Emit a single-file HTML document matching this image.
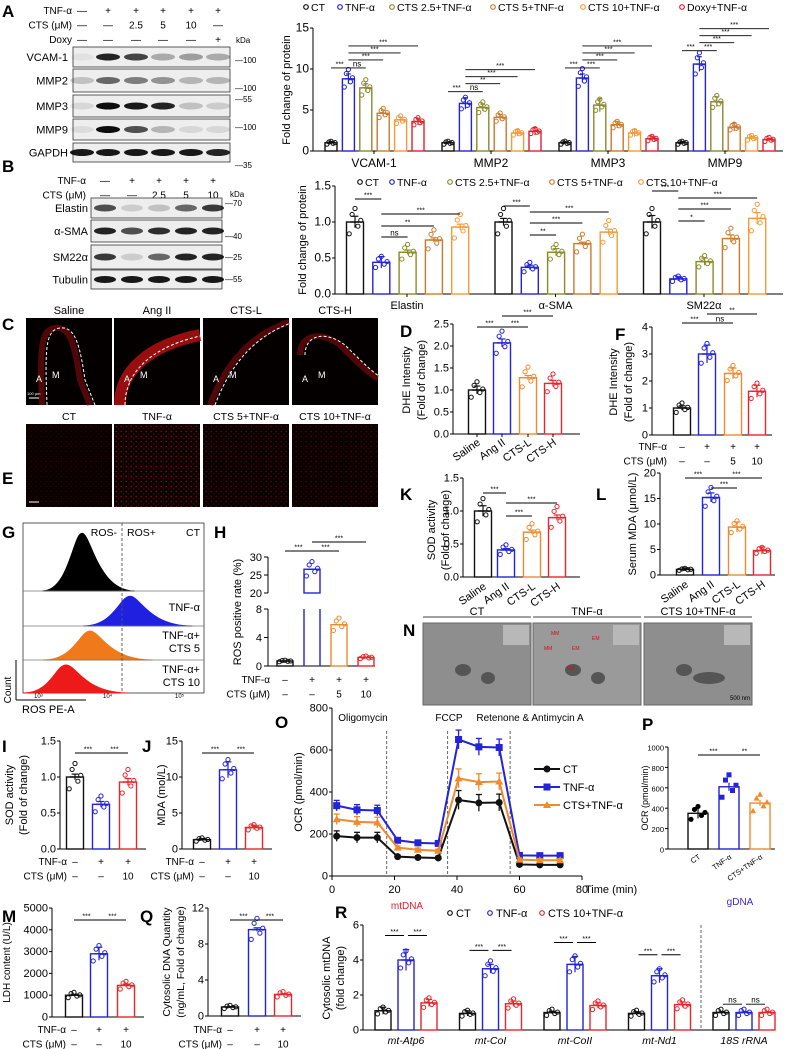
<!DOCTYPE html>
<html><head><meta charset="utf-8"><style>
html,body{margin:0;padding:0;background:#fff}
svg{display:block;font-family:"Liberation Sans",Arial,sans-serif}
</style></head><body>
<svg id="fig" width="787" height="1049" viewBox="0 0 787 1049" xmlns="http://www.w3.org/2000/svg">
<defs>
<pattern id="dots" width="5" height="5" patternUnits="userSpaceOnUse"><circle cx="1.2" cy="1.5" r="0.7" fill="#ff2020"/><circle cx="3.8" cy="3.9" r="0.6" fill="#c01010"/></pattern>
</defs>
</svg>
<script>
// ---------- data ----------
const C_CT='#111', C_TNF='#2323d8', C_25='#8a8a2c', C_5='#cc7a2e', C_10='#f59a38', C_DOXY='#e0202c', C_L='#f08a2e', C_H='#e8262c';
const aGroups=['VCAM-1','MMP2','MMP3','MMP9'];
const aVals=[[1,8.8,7.7,4.6,3.8,3.6],[1,5.8,5.3,4.1,2.2,2.4],[1,8.9,5.6,3.2,2.2,1.5],[1,10.6,6.0,2.9,1.6,1.4]];
const aSem=[[0.15,0.6,0.5,0.35,0.3,0.4],[0.1,0.7,0.4,0.35,0.4,0.45],[0.15,0.5,0.8,0.4,0.45,0.3],[0.15,0.9,0.6,0.5,0.2,0.1]];
const bGroups=['Elastin','α-SMA','SM22α'];
const bVals=[[1,0.44,0.58,0.75,0.93],[1,0.37,0.58,0.70,0.86],[1,0.21,0.45,0.77,1.05]];
const bSem=[[0.08,0.08,0.03,0.03,0.04],[0.05,0.03,0.05,0.02,0.04],[0.09,0.03,0.05,0.05,0.08]];
const bSigLabels=[['***','ns','**','***'],['***','**','***','***'],['***','*','***','***']];
const dVals=[1.0,2.07,1.28,1.15], dSem=[0.09,0.09,0.05,0.07];
const fVals=[1.0,3.0,2.28,1.62], fSem=[0.08,0.33,0.2,0.22];
const kVals=[1.0,0.41,0.68,0.90], kSem=[0.08,0.02,0.03,0.04];
const lVals=[1.1,15.2,9.4,4.8], lSem=[0.3,0.9,1.0,0.7];
const hVals=[0.7,26.6,5.8,1.2], hSem=[0.1,0.6,0.3,0.3];
const iVals=[1.0,0.62,0.93], iSem=[0.04,0.04,0.05];
const jVals=[1.3,11.0,3.0], jSem=[0.15,1.1,0.3];
const mVals=[1000,2900,1450], mSem=[40,300,60];
const qVals=[1.0,9.6,2.4], qSem=[0.05,0.2,0.05];
const pVals=[350,610,450], pSem=[50,40,30];
const rGroups=['mt-Atp6','mt-CoI','mt-CoII','mt-Nd1','18S rRNA'];
const rVals=[[1.1,4.0,1.55],[0.95,3.5,1.5],[1.0,3.75,1.4],[0.95,3.1,1.45],[1,1,1]];
const rSem=[[0.2,0.6,0.2],[0.15,0.25,0.15],[0.07,0.45,0.15],[0.1,0.4,0.15],[0.02,0.02,0.02]];
const oTimes=[1.5,8,14.5,21,27.5,34,40.5,47,53.5,60,66.5,73];
const oCT=[190,183,183,92,88,86,362,348,350,55,53,53];
const oTNF=[335,315,312,170,158,155,650,615,612,98,97,97];
const oCTS=[270,258,255,135,125,120,465,447,450,78,75,75];
const oErr=[25,25,25,8,8,8,45,40,40,8,8,8];
const replDev=[-0.14,0.09,0.16,-0.05,0.02];
const blotA=[['VCAM-1',[0.05,0.9,0.75,0.3,0.35,0.3]],['MMP2',[0.2,0.6,0.5,0.4,0.25,0.25]],['MMP3',[0.1,1,0.95,0.9,0.2,0.15]],['MMP9',[0.08,1,0.7,0.25,0.1,0.1]],['GAPDH',[0.95,0.95,0.95,0.95,0.95,0.9]]];
const blotB=[['Elastin',[0.7,0.15,0.2,0.6,0.8]],['α-SMA',[0.9,0.7,0.85,0.9,0.9]],['SM22α',[0.8,0.15,0.6,0.9,0.9]],['Tubulin',[0.95,0.95,0.95,0.95,0.95]]];

// ---------- helpers ----------
const NS='http://www.w3.org/2000/svg';
const svg=document.getElementById('fig');
function mk(tag,attrs,name){
  const e=document.createElementNS(NS,tag);
  for(const k in attrs) e.setAttribute(k,attrs[k]);
  
  
  svg.appendChild(e); return e;
}
function txt(x,y,s,size,anchor,color,name,rot,extra){
  const a={x:x,y:y,'font-size':size,'text-anchor':anchor||'start',fill:color||'#000'};
  if(rot) a.transform='rotate('+rot+' '+x+' '+y+')';
  if(extra) for(const k in extra) a[k]=extra[k];
  const t=mk('text',a,name||'label'); t.textContent=s; return t;
}
function line(x1,y1,x2,y2,col,w,name,dash){
  const a={x1:x1,y1:y1,x2:x2,y2:y2,stroke:col||'#000','stroke-width':w||1};
  if(dash) a['stroke-dasharray']=dash;
  return mk('line',a,name||'line');
}
function letter(x,y,s){ txt(x,y,s,17,'start','#000','panel-letter-'+s,0,{'font-weight':'bold'}); }
function yScale(yBot,yTop,vmin,vmax){ return v=>yBot-(v-vmin)/(vmax-vmin)*(yBot-yTop); }
function yAxis(x,yBot,yTop,ticks,labels,y,size,name){
  line(x,yBot,x,yTop,'#000',1,name+'-axis');
  ticks.forEach((t,i)=>{ line(x-3,y(t),x,y(t),'#000',1,name+'-tick'); txt(x-4,y(t)+3.5,labels[i],size||10,'end','#000',name+'-tick-label'); });
}
function bars(xs,vals,sems,cols,y,w,name,pts){
  xs.forEach((x,i)=>{
    const v=vals[i], c=cols[i];
    mk('rect',{x:x-w/2,y:y(v),width:w,height:Math.max(0,y(0)-y(v)),fill:'#fff',stroke:c,'stroke-width':1.4},name+'-bar');
    line(x,y(v+sems[i]),x,y(v-sems[i]),c,1.2,name+'-error-bar');
    line(x-w*0.2,y(v+sems[i]),x+w*0.2,y(v+sems[i]),c,1.2,name+'-error-cap');
    line(x-w*0.3,y(v),x+w*0.3,y(v),c,1.4,name+'-mean');
    if(pts!==false) replDev.forEach((d,k)=>{
      const pv=v*(1+d*(v>2?0.9:1.3)*0.9);
      mk('circle',{cx:x+(k-2)*w*0.17,cy:y(pv),r:2.1,fill:'none',stroke:c,'stroke-width':1},name+'-point');
    });
  });
}
function sig(x1,x2,yy,s,name){ line(x1,yy,x2,yy,'#000',0.9,name+'-sig-line'); txt((x1+x2)/2,yy-1.5,s,s==='ns'?8:7,'middle','#000',name+'-sig-label'); }
function signRows(xs,rows,yBase,labelX,names){
  rows.forEach((r,ri)=>{
    txt(labelX,yBase+ri*14.5,names[ri],10,'end','#000','condition-label');
    r.forEach((s,i)=>txt(xs[i],yBase+ri*14.5,s,10,'middle','#000','condition-sign'));
  });
}

// ---------- Panel A blots ----------
letter(2,17,'A');
const laneA=[82,108,136,163,191,218];
signRows(laneA,[['—','+','+','+','+','+'],['—','—','2.5','5','10','—'],['—','—','—','—','—','+']],14,72,['TNF-α','CTS (μM)','Doxy']);
txt(236,43,'kDa',8,'start','#000','kda-label');
const aRows=[[47,67],[69,92],[95,117],[119,140],[143,162]];
blotA.forEach((b,i)=>{
  const [t,bt]=aRows[i];
  mk('rect',{x:73,y:t,width:157,height:bt-t,fill:'#eeeeee',stroke:'#333','stroke-width':0.8},'blot-'+b[0]);
  txt(68,(t+bt)/2+4,b[0],11,'end','#000','blot-label');
  b[1].forEach((v,k)=>mk('ellipse',{cx:laneA[k],cy:(t+bt)/2,rx:12,ry:3.5,fill:'#000',opacity:v*0.95},'band'));
});
[['100',60],['100',88],['55',99],['100',127],['35',165]].forEach(m=>{txt(235,m[1]+3,'—'+m[0],8,'start','#000','kda-marker');});
// ---------- Panel B blots ----------
letter(2,172,'B');
const laneB=[105,132,159,186,213];
signRows(laneB,[['—','+','+','+','+'],['—','—','2.5','5','10']],184,86,['TNF-α','CTS (μM)']);
txt(230,197,'kDa',8,'start','#000','kda-label');
const bRows=[[198,218],[220,242],[245,269],[270,289]];
blotB.forEach((b,i)=>{
  const [t,bt]=bRows[i];
  mk('rect',{x:91,y:t,width:131,height:bt-t,fill:'#eeeeee',stroke:'#333','stroke-width':0.8},'blot-'+b[0]);
  txt(88,(t+bt)/2+4,b[0],11,'end','#000','blot-label');
  b[1].forEach((v,k)=>mk('ellipse',{cx:laneB[k],cy:(t+bt)/2,rx:11,ry:3.5,fill:'#000',opacity:v*0.95},'band'));
});
[['70',203],['40',236],['25',257],['55',279]].forEach(m=>txt(225,m[1]+3,'—'+m[0],8,'start','#000','kda-marker'));

// ---------- Panel A chart ----------
(function(){
  const y=yScale(151,28,0,15);
  yAxis(313,151,28,[0,5,10,15],['0','5','10','15'],y,12,'a-chart');
  line(313,151,783,151,'#000',1,'a-x-axis');
  const cols=[C_CT,C_TNF,C_25,C_5,C_10,C_DOXY];
  aGroups.forEach((g,gi)=>{
    const x0=331+gi*117;
    const xs=cols.map((c,i)=>x0+i*17.4);
    bars(xs,aVals[gi],aSem[gi],cols,y,12,'a-'+g);
    line(x0+43,151,x0+43,154,'#000',1,'a-x-tick');
    txt(x0+43,167,g,12,'middle','#000','a-x-label');
    const top=y(aVals[gi][1]+aSem[gi][1])-6;
    sig(xs[0],xs[1],top,'***','a');
    sig(xs[1],xs[2],top,gi<2?'ns':'***','a');
    [3,4,5].forEach((k,j)=>sig(xs[1],xs[k],top-8-j*7,gi===1&&j===0?'**':'***','a'));
  });
  txt(290,90,'Fold change of protein',11,'middle','#000','a-y-title',-90);
  const leg=[['CT',C_CT,306],['TNF-α',C_TNF,340],['CTS 2.5+TNF-α',C_25,392],['CTS 5+TNF-α',C_5,493],['CTS 10+TNF-α',C_10,583],['Doxy+TNF-α',C_DOXY,682]];
  leg.forEach(l=>{mk('circle',{cx:l[2],cy:7,r:2.3,fill:'none',stroke:l[1],'stroke-width':1.2},'legend-marker');txt(l[2]+5,11,l[0],10.5,'start','#000','legend-entry');});
})();
// ---------- Panel B chart ----------
(function(){
  const y=yScale(294,186,0,1.5);
  yAxis(335,294,186,[0,0.5,1,1.5],['0.0','0.5','1.0','1.5'],y,12,'b-chart');
  line(335,294,783,294,'#000',1,'b-x-axis');
  const cols=[C_CT,C_TNF,C_25,C_5,C_10];
  const sigY=[[199,237,226,214],[206,235,223,212],[191,221,209,198]];
  bGroups.forEach((g,gi)=>{
    const x0=355+gi*148.5;
    const xs=cols.map((c,i)=>x0+i*26.3);
    bars(xs,bVals[gi],bSem[gi],cols,y,17,'b-'+g);
    line(x0+52,294,x0+52,297,'#000',1,'b-x-tick');
    txt(x0+52,309,g,11,'middle','#000','b-x-label');
    sig(xs[0],xs[1],sigY[gi][0],bSigLabels[gi][0],'b');
    [2,3,4].forEach((k,j)=>sig(xs[1],xs[k],sigY[gi][j+1],bSigLabels[gi][j+1],'b'));
  });
  txt(306,240,'Fold change of protein',11,'middle','#000','b-y-title',-90);
  const leg=[['CT',C_CT,360],['TNF-α',C_TNF,392],['CTS 2.5+TNF-α',C_25,450],['CTS 5+TNF-α',C_5,552],['CTS 10+TNF-α',C_10,641]];
  leg.forEach(l=>{mk('circle',{cx:l[2],cy:182,r:2.3,fill:'none',stroke:l[1],'stroke-width':1.2},'legend-marker');txt(l[2]+5,186,l[0],10.5,'start','#000','legend-entry');});
})();

// ---------- Panel C images ----------
letter(2,330,'C');
const cNames=['Saline','Ang II','CTS-L','CTS-H'];
const cX=[26,114,203,292];
const cPaths=['M42 405 C40 350 40 330 55 328 C70 326 75 345 80 380 L90 405','M120 405 C120 370 150 345 200 335','M210 405 C225 365 250 335 289 322','M300 355 C300 335 320 330 340 345 C355 360 370 375 378 378'];
cX.forEach((x,i)=>{
  mk('rect',{x:x,y:318,width:86,height:87,fill:'#050000'},'c-image-'+cNames[i]);
  mk('path',{d:cPaths[i],fill:'none',stroke:'#b01010','stroke-width':i===1?12:6,opacity:i===1?0.85:0.45},'c-vessel-wall');
  mk('path',{d:cPaths[i],fill:'none',stroke:'#fff','stroke-width':1,'stroke-dasharray':'3 2',transform:'translate(5,0)'},'c-dashed-line');
  txt(x+43,314,cNames[i],11,'middle','#000','c-title');
  txt(x+10,382,'A',9,'start','#fff','c-adventitia-label');
  txt(x+26,378,'M',9,'start','#fff','c-media-label');
});
line(29,398,39,398,'#fff',1,'scale-bar'); txt(27,395,'100 μm',4,'start','#fff','scale-text');
// ---------- Panel E images ----------
letter(2,484,'E');
const eNames=['CT','TNF-α','CTS 5+TNF-α','CTS 10+TNF-α'];
const eOp=[0.15,0.55,0.35,0.27];
cX.forEach((x,i)=>{
  mk('rect',{x:x,y:424,width:86,height:83,fill:'#0a0000'},'e-image-bg');
  mk('rect',{x:x,y:424,width:86,height:83,fill:'url(#dots)',opacity:eOp[i]},'e-image-'+eNames[i]);
  txt(x+43,420,eNames[i],10.5,'middle','#000','e-title');
});
line(29,502,39,502,'#fff',1,'scale-bar');

// ---------- D ----------
letter(400,337,'D');
(function(){const y=yScale(434,324,0,2.5);
 yAxis(453,434,324,[0,0.5,1,1.5,2,2.5],['0.0','0.5','1.0','1.5','2.0','2.5'],y,11,'d');
 line(453,434,580,434,'#000',1,'d-x-axis');
 const xs=[477,502,528,553]; bars(xs,dVals,dSem,[C_CT,C_TNF,C_L,C_H],y,17,'d');
 ['Saline','Ang II','CTS-L','CTS-H'].forEach((s,i)=>{line(xs[i],434,xs[i],437,'#000',1,'d-tick');txt(xs[i]+4,444,s,11,'end','#000','d-x-label',-35);});
 sig(477,502,327,'***','d');sig(502,528,327,'***','d');sig(502,553,316,'***','d');
 txt(410,380,'DHE Intensity',11,'middle','#000','d-y-title',-90);txt(425,380,'(Fold of change)',11,'middle','#000','d-y-title',-90);
})();
// ---------- F ----------
letter(615,340,'F');
(function(){const y=yScale(435,327,0,4);
 yAxis(652,435,327,[0,1,2,3,4],['0','1','2','3','4'],y,11,'f');
 line(652,435,772,435,'#000',1,'f-x-axis');
 const xs=[682,707,733,757]; bars(xs,fVals,fSem,[C_CT,C_TNF,C_L,C_H],y,17,'f');
 signRows(xs,[['–','+','+','+'],['–','–','5','10']],450,667,['TNF-α','CTS (μM)']);
 sig(682,707,323,'***','f');sig(707,733,323,'ns','f');sig(707,757,314,'**','f');
 txt(617,382,'DHE Intensity',11,'middle','#000','f-y-title',-90);txt(632,382,'(Fold of change)',11,'middle','#000','f-y-title',-90);
})();
// ---------- K ----------
letter(400,500,'K');
(function(){const y=yScale(577,478,0,1.5);
 yAxis(463,577,478,[0,0.5,1,1.5],['0.0','0.5','1.0','1.5'],y,11,'k');
 line(463,577,580,577,'#000',1,'k-x-axis');
 const xs=[483,506,532,557]; bars(xs,kVals,kSem,[C_CT,C_TNF,C_L,C_H],y,17,'k');
 ['Saline','Ang II','CTS-L','CTS-H'].forEach((s,i)=>txt(xs[i]+4,588,s,11,'end','#000','k-x-label',-35));
 sig(483,506,493,'***','k');sig(506,532,516,'***','k');sig(506,557,503,'***','k');
 txt(435,530,'SOD activity',11,'middle','#000','k-y-title',-90);txt(449,530,'(Fold of change)',11,'middle','#000','k-y-title',-90);
})();
// ---------- L ----------
letter(596,500,'L');
(function(){const y=yScale(575,473,0,20);
 yAxis(660,575,473,[0,5,10,15,20],['0','5','10','15','20'],y,11,'l');
 line(660,575,775,575,'#000',1,'l-x-axis');
 const xs=[685,711,737,762]; bars(xs,lVals,lSem,[C_CT,C_TNF,C_L,C_H],y,17,'l');
 ['Saline','Ang II','CTS-L','CTS-H'].forEach((s,i)=>txt(xs[i]+4,586,s,11,'end','#000','l-x-label',-35));
 sig(685,711,478,'***','l');sig(711,737,488,'***','l');sig(711,762,478,'***','l');
 txt(636,524,'Serum MDA (μmol/L)',11,'middle','#000','l-y-title',-90);
})();

// ---------- G flow histograms ----------
letter(2,538,'G');
(function(){
 mk('rect',{x:23,y:523,width:181,height:170,fill:'none',stroke:'#333','stroke-width':0.8},'g-plot-box');
 const rowsG=[[523,591,'#000',82,22,''],[591,626,'#2020e0',130,26,'TNF-α'],[626,660,'#f07a1a',90,26,'TNF-α+|CTS 5'],[660,693,'#ee1a1a',66,26,'TNF-α+|CTS 10']];
 rowsG.forEach((r,i)=>{
  const [t,b,c,pk,w,lab]=r; const h=(b-t)*0.85;
  const d='M'+Math.max(24,pk-w*1.8)+' '+b+' C'+(pk-w*0.6)+' '+b+' '+(pk-w*0.4)+' '+(b-h)+' '+pk+' '+(b-h)+' C'+(pk+w*0.4)+' '+(b-h)+' '+(pk+w*0.7)+' '+b+' '+(pk+w*2.4)+' '+b+' Z';
  mk('path',{d:d,fill:c,stroke:c},'g-histogram');
  if(i>0) line(23,t,204,t,'#777',0.8,'g-row-divider');
  lab.split('|').forEach((s,k)=>txt(200,t+(lab.includes('|')?13+k*13:20),s,11,'end','#000','g-row-label'));
 });
 line(122,523,122,693,'#555',0.9,'g-gate-line','3 2');
 txt(117,536,'ROS-',10.5,'end','#000','g-gate-label');txt(127,536,'ROS+',10.5,'start','#000','g-gate-label');txt(200,536,'CT',10.5,'end','#000','g-row-label');
 line(16,700,16,660,'#000',1,'g-y-arrow');line(16,700,86,700,'#000',1,'g-x-arrow');
 txt(11,690,'Count',10,'middle','#000','g-y-title',-90);txt(22,713,'ROS PE-A',11,'start','#000','g-x-title');
 txt(34,698,'10³',6,'start','#000','g-tick');txt(103,698,'10⁴',6,'start','#000','g-tick');txt(175,698,'10⁵',6,'start','#000','g-tick');
})();
// ---------- H broken axis ----------
letter(214,538,'H');
(function(){
 const yLo=yScale(666,609,0,8), yHi=yScale(593,557,20,30);
 const y=v=>v>=20?yHi(v):yLo(v);
 line(268,666,268,609,'#000',1,'h-axis');line(268,593,268,557,'#000',1,'h-axis');
 [[0,'0'],[4,'4'],[8,'8']].forEach(t=>{line(264,yLo(t[0]),268,yLo(t[0]),'#000',1,'h-tick');txt(262,yLo(t[0])+4,t[1],11,'end','#000','h-tick-label');});
 [[20,'20'],[25,'25'],[30,'30']].forEach(t=>{line(264,yHi(t[0]),268,yHi(t[0]),'#000',1,'h-tick');txt(262,yHi(t[0])+4,t[1],11,'end','#000','h-tick-label');});
 line(268,666,375,666,'#000',1,'h-x-axis');
 const xs=[285,312,339,366], cols=[C_CT,C_TNF,C_L,C_H];
 xs.forEach((x,i)=>{
  const v=hVals[i], c=cols[i], top=y(v);
  if(v>=20){ mk('rect',{x:x-8,y:top,width:16,height:593-top,fill:'#fff',stroke:c,'stroke-width':1.4},'h-bar');
    line(x-8,609,x-8,666,c,1.4,'h-bar');line(x+8,609,x+8,666,c,1.4,'h-bar');}
  else mk('rect',{x:x-8,y:top,width:16,height:666-top,fill:'#fff',stroke:c,'stroke-width':1.4},'h-bar');
  line(x-5,top,x+5,top,c,1.4,'h-mean');
  replDev.forEach((d,k)=>mk('circle',{cx:x+(k-2)*2.8,cy:y(v*(1+d*(v>20?0.5:1))),r:2.1,fill:'none',stroke:c},'h-point'));
 });
 signRows(xs,[['–','+','+','+'],['–','–','5','10']],683,270,['TNF-α','CTS (μM)']);
 sig(285,312,551,'***','h');sig(312,339,551,'***','h');sig(312,366,542,'***','h');
 txt(241,612,'ROS positive rate (%)',11,'middle','#000','h-y-title',-90);
})();

// ---------- I, J, M, Q ----------
function small3(letterS,lx,ly,ax,yTop,yBot,vmax,ticks,tl,xs,vals,sems,title,tx,rowsY,name,title2,tsize){
 letter(lx,ly,letterS);
 const y=yScale(yBot,yTop,0,vmax);
 yAxis(ax,yBot,yTop,ticks,tl,y,11,name);
 line(ax,yBot,xs[2]+18,yBot,'#000',1,name+'-x-axis');
 bars(xs,vals,sems,[C_CT,C_TNF,C_H],y,17,name);
 signRows(xs,[['–','+','+'],['–','–','10']],rowsY,xs[0]-8,['TNF-α','CTS (μM)']);
 sig(xs[0],xs[1],yTop+12,'***',name);sig(xs[1],xs[2],yTop+12,'***',name);
 const fs=tsize||11;
 if(title2){txt(tx,(yTop+yBot)/2,title,fs,'middle','#000',name+'-y-title',-90);txt(tx+14,(yTop+yBot)/2,title2,fs,'middle','#000',name+'-y-title',-90);}
 else txt(tx,(yTop+yBot)/2,title,fs,'middle','#000',name+'-y-title',-90);
}
small3('I',2,752,60,741,849,1.5,[0,0.5,1,1.5],['0.0','0.5','1.0','1.5'],[75,101,128],iVals,iSem,'SOD activity',13,865,'i','(Fold of change)');
small3('J',142,752,182,741,849,15,[0,5,10,15],['0','5','10','15'],[202,228,254],jVals,jSem,'MDA (mol/L)',165,865,'j');
small3('M',2,922,52,908,1017,5000,[0,1000,2000,3000,4000,5000],['0','1000','2000','3000','4000','5000'],[74,99,126],mVals,mSem,'LDH content (U/L)',10,1033,'m',null,10);
small3('Q',140,922,208,908,1016,12,[0,4,8,12],['0','4','8','12'],[230,257,283],qVals,qSem,'Cytosolic DNA Quantity',170,1033,'q','(ng/mL, Fold of change)',10.5);

// ---------- N EM images ----------
letter(403,636,'N');
(function(){
 const nx=[423,533,644], nn=['CT','TNF-α','CTS 10+TNF-α'];
 nx.forEach((x,i)=>{
  mk('rect',{x:x,y:623,width:108,height:82,fill:i===1?'#9a9a9a':'#8e8e8e',stroke:'#666'},'n-em-image-'+nn[i]);
  mk('rect',{x:x+80,y:625,width:26,height:20,fill:'#b8b8b8'},'n-inset');
  line(x,617,x+108,617,'#000',0.8,'n-title-line');
  txt(x+54,615,nn[i],11,'middle','#000','n-title');
  mk('ellipse',{cx:x+40,cy:670,rx:8,ry:6,fill:'#555'},'n-mitochondrion');
  mk('ellipse',{cx:x+65,cy:678,rx:i===2?16:7,ry:6,fill:'#555'},'n-mitochondrion');
 });
 [[551,635,'MM'],[592,640,'EM'],[572,650,'EM'],[544,650,'MM'],[567,670,'EM']].forEach(l=>txt(l[0],l[1],l[2],5,'start','#d01010','n-em-label'));
 txt(750,700,'500 nm',6,'end','#000','n-scale');
})();

// ---------- O line chart ----------
letter(275,728,'O');
const oColors=[C_CT,C_TNF,C_L];
(function(){
 const y=yScale(876,708,0,800), x=t=>332+t/80*250;
 yAxis(332,876,708,[0,200,400,600,800],['0','200','400','600','800'],y,11,'o');
 line(332,876,582,876,'#000',1,'o-x-axis');
 [0,20,40,60,80].forEach(t=>{line(x(t),876,x(t),880,'#000',1,'o-x-tick');txt(x(t),893,String(t),11,'middle','#000','o-x-tick-label');});
 txt(585,893,'Time (min)',11,'start','#000','o-x-title');
 [17.5,37,57].forEach(t=>line(x(t),731,x(t),876,'#555',0.9,'o-injection-line','3 2'));
 txt(363,721,'Oligomycin',10,'middle','#000','o-injection-label');txt(449,721,'FCCP',10,'middle','#000','o-injection-label');txt(530,721,'Retenone & Antimycin A',10,'middle','#000','o-injection-label');
 txt(302,792,'OCR (pmol/min)',11,'middle','#000','o-y-title',-90);
 [oCT,oTNF,oCTS].forEach((ser,si)=>{
  const c=oColors[si];
  mk('polyline',{points:oTimes.map((t,i)=>x(t)+','+y(ser[i])).join(' '),fill:'none',stroke:c,'stroke-width':2},'o-series-line');
  oTimes.forEach((t,i)=>{
   line(x(t),y(ser[i]+oErr[i]),x(t),y(ser[i]-oErr[i]),c,1.3,'o-error-bar');
   line(x(t)-3,y(ser[i]+oErr[i]),x(t)+3,y(ser[i]+oErr[i]),c,1.3,'o-error-cap');
   if(si===0) mk('circle',{cx:x(t),cy:y(ser[i]),r:3.5,fill:c},'o-point-ct');
   else if(si===1) mk('rect',{x:x(t)-3.5,y:y(ser[i])-3.5,width:7,height:7,fill:c},'o-point-tnf');
   else mk('polygon',{points:(x(t))+','+(y(ser[i])-4)+' '+(x(t)-4)+','+(y(ser[i])+3)+' '+(x(t)+4)+','+(y(ser[i])+3),fill:c},'o-point-cts');
  });
 });
 ['CT','TNF-α','CTS+TNF-α'].forEach((s,i)=>{
  const ly=769+i*18; line(534,ly,560,ly,oColors[i],2,'o-legend-line');
  if(i===0) mk('circle',{cx:547,cy:ly,r:3.5,fill:oColors[i]},'o-legend-marker');
  else if(i===1) mk('rect',{x:543.5,y:ly-3.5,width:7,height:7,fill:oColors[i]},'o-legend-marker');
  else mk('polygon',{points:'547,'+(ly-4)+' 543,'+(ly+3)+' 551,'+(ly+3),fill:oColors[i]},'o-legend-marker');
  txt(563,ly+4,s,11,'start','#000','o-legend-entry');
 });
})();
// ---------- P ----------
letter(642,730,'P');
(function(){
 const y=yScale(849,747,0,1000);
 yAxis(668,849,747,[0,200,400,600,800,1000],['0','200','400','600','800','1000'],y,7.5,'p');
 line(668,849,775,849,'#000',1,'p-x-axis');
 const xs=[698,729,760], cols=[C_CT,C_TNF,C_L];
 xs.forEach((x,i)=>{
  const v=pVals[i];
  mk('rect',{x:x-10,y:y(v),width:20,height:849-y(v),fill:'#fff',stroke:cols[i],'stroke-width':1.4},'p-bar');
  line(x,y(v+pSem[i]),x,y(v-pSem[i]),cols[i],1.2,'p-error-bar');
  replDev.forEach((d,k)=>{const px=x+(k-2)*3.5, py=y(v*(1+d*1.2));
   if(i===0) mk('circle',{cx:px,cy:py,r:2.6,fill:'#000'},'p-point');
   else if(i===1) mk('rect',{x:px-2.5,y:py-2.5,width:5,height:5,fill:C_TNF},'p-point');
   else mk('polygon',{points:px+','+(py-3)+' '+(px-3)+','+(py+2.5)+' '+(px+3)+','+(py+2.5),fill:C_L},'p-point');});
  txt(x+3,858,['CT','TNF-α','CTS+TNF-α'][i],7.5,'end','#000','p-x-label',-35);
 });
 sig(698,729,755,'***','p');sig(729,760,755,'**','p');
 txt(648,798,'OCR (pmol/min)',9,'middle','#000','p-y-title',-90);
})();

// ---------- R ----------
txt(407,909,'mtDNA',10,'middle','#e0202c','r-mtdna-label');
txt(740,905,'gDNA',10,'middle','#3a2acc','r-gdna-label');
letter(335,918,'R');
(function(){
 const y=yScale(1030,925,0,6);
 yAxis(363,1030,925,[0,2,4,6],['0','2','4','6'],y,11,'r');
 line(363,1030,775,1030,'#000',1,'r-x-axis');
 line(701,925,701,1030,'#555',0.9,'r-divider','3 2');
 const cols=[C_CT,C_TNF,C_H];
 rGroups.forEach((g,gi)=>{
  const x0=383+gi*84.5; const xs=[x0,x0+23,x0+46];
  bars(xs,rVals[gi],rSem[gi],cols,y,16,'r-'+g);
  txt(x0+23,1044,g,10.5,'middle','#000','r-x-label',0,{'font-style':'italic'});
  const top=y(rVals[gi][1]+rSem[gi][1])-(gi<4?14:8);
  sig(xs[0]+2,xs[1]-2,top,gi<4?'***':'ns','r');sig(xs[1]+2,xs[2]-2,top,gi<4?'***':'ns','r');
 });
 txt(330,978,'Cytosolic mtDNA',11,'middle','#000','r-y-title',-90);txt(344,978,'(fold change)',11,'middle','#000','r-y-title',-90);
 [['CT',C_CT,450],['TNF-α',C_TNF,490],['CTS 10+TNF-α',C_H,542]].forEach(l=>{mk('circle',{cx:l[2],cy:913,r:2.3,fill:'none',stroke:l[1],'stroke-width':1.2},'legend-marker');txt(l[2]+6,917,l[0],11,'start','#000','legend-entry');});
})();
</script>
</body></html>
